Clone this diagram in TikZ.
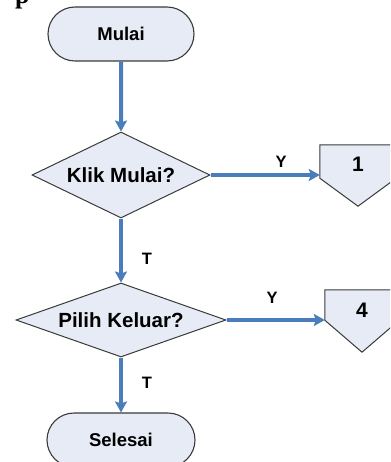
\documentclass[tikz,border=0pt]{standalone}
\usepackage{fontspec}
\setmainfont{Liberation Sans}
\newfontfamily\pagefont{Liberation Serif}
\usetikzlibrary{shapes.geometric,shapes.misc,arrows.meta,calc}
\definecolor{boxfill}{HTML}{E6EBF5}
\definecolor{flowblue}{HTML}{4A7EBB}
\definecolor{edgegray}{HTML}{3A3A3A}
\begin{document}
\begin{tikzpicture}[x=1pt,y=1pt,
  terminal/.style={rounded rectangle, draw=edgegray, fill=boxfill, line width=1.1pt,
    minimum width=146pt, minimum height=54pt, inner sep=0pt,
    font=\bfseries\fontsize{18.5}{20}\selectfont},
  decision/.style={diamond, draw=edgegray, fill=boxfill, line width=1pt, inner sep=0pt,
    font=\bfseries\fontsize{20.5}{22}\selectfont},
  offbox/.style={inner sep=0pt},
  offline/.style={draw=edgegray, fill=boxfill, line width=1pt, line join=miter},
  numtext/.style={inner sep=0pt, font=\bfseries\fontsize{21}{22}\selectfont},
  flow/.style={draw=flowblue, line width=4pt, -{Stealth[length=11pt,width=12pt,inset=2pt]}},
  flowlabel/.style={inner sep=0pt, font=\bfseries\fontsize{16.5}{18}\selectfont}
]
\useasboundingbox (0,0) rectangle (390,-462);
\clip (0,0) rectangle (390,-462);

% letter of the surrounding page text, cut by the top edge
\node[anchor=base west, inner sep=0pt, font=\pagefont\bfseries\fontsize{26}{26}\selectfont] (pg) at (15,-4) {p};

% main column
\node[terminal] (mulai) at (121,-34) {Mulai};
\node[decision, shape aspect=2.07, minimum width=178pt, minimum height=86pt] (klik) at (121,-175) {Klik Mulai?};
\node[decision, shape aspect=2.84, minimum width=210pt, minimum height=74pt] (pilih) at (121,-320) {Pilih Keluar?};
\node[terminal, minimum width=148pt] (selesai) at (121,-440) {Selesai};

% off-page connectors
\node[offbox, minimum width=76pt, minimum height=33pt] (c1) at (358,-161.5) {};
\draw[offline] (c1.north west) -- (c1.north east) -- (c1.south east)
  -- ($(c1.south)+(0,-28)$) -- (c1.south west) -- cycle;
\node[numtext] (one) at ($(c1)+(0,-3)$) {1};

\node[offbox, minimum width=74pt, minimum height=30pt] (c4) at (362,-305) {};
\draw[offline] (c4.north west) -- (c4.north east) -- (c4.south east)
  -- ($(c4.south)+(0,-32)$) -- (c4.south west) -- cycle;
\node[numtext] (four) at ($(c4)+(0,-5.5)$) {4};

% connectors
\draw[flow] (mulai) -- (klik);
\draw[flow] (klik) -- (pilih);
\draw[flow] (pilih) -- (selesai);
\coordinate (k1) at ($(klik.east -| c1.west)$);
\coordinate (k4) at ($(pilih.east -| c4.west)$);
\draw[flow] (klik.east) -- (k1);
\draw[flow] (pilih.east) -- (k4);

% branch labels
\node[flowlabel] (y1) at (281,-162) {Y};
\node[flowlabel] (y2) at (272,-298) {Y};
\node[flowlabel] (t1) at (147,-259) {T};
\node[flowlabel] (t2) at (147,-383) {T};
\end{tikzpicture}
\end{document}
